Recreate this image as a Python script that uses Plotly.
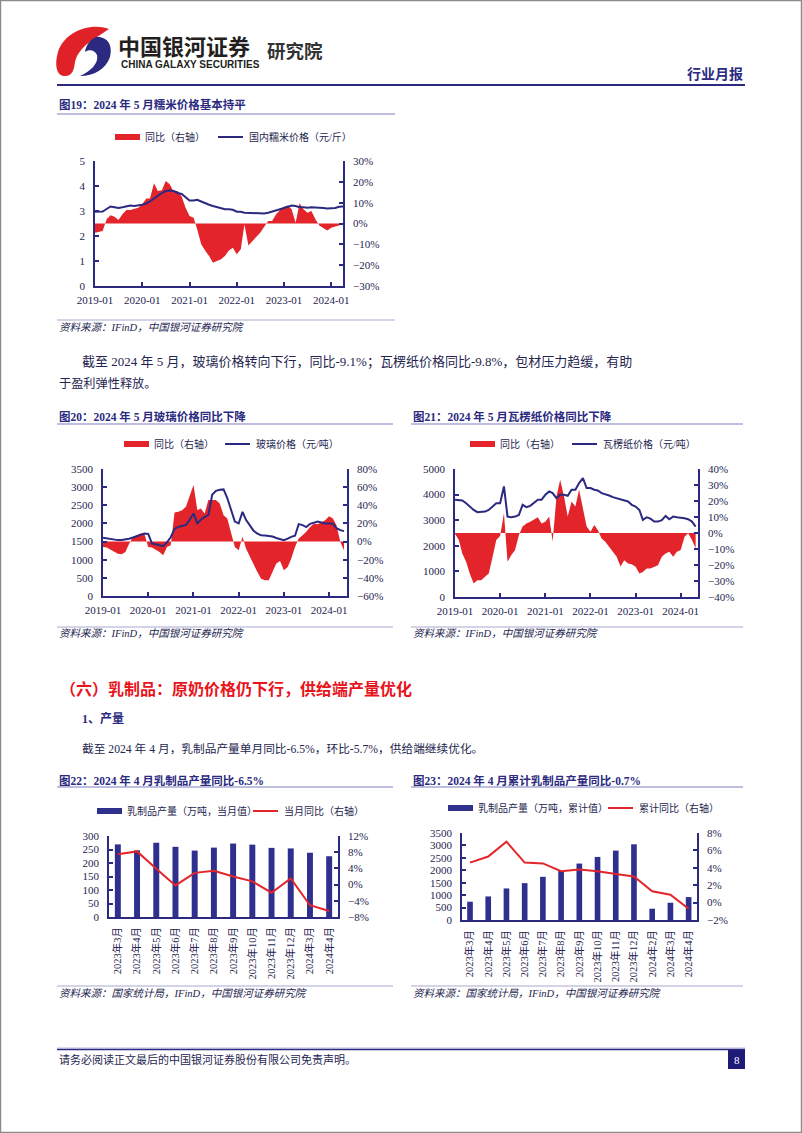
import plotly.graph_objects as go
import pandas as pd

W, H = 802, 1133
def X(px): return px / W
def Y(py): return 1 - py / H

FONT = "Liberation Serif, Noto Sans CJK SC, serif"
NAVY = "#2b2a80"
BARC = "#2f2f8e"
RED = "#e3252b"
TXT = "#25254f"
LAV = "#a9a9d3"

# ---------------- data ----------------
year_ticks = ["2019-01-01", "2020-01-01", "2021-01-01", "2022-01-01", "2023-01-01", "2024-01-01"]
year_labels = ["2019-01", "2020-01", "2021-01", "2022-01", "2023-01", "2024-01"]

# Fig 19: glutinous rice
rice_price = [2.97, 2.96, 2.98, 3.08, 3.18, 3.15, 3.12, 3.15, 3.20, 3.22, 3.20, 3.22,
              3.25, 3.30, 3.38, 3.50, 3.62, 3.72, 3.80, 3.82, 3.80, 3.72, 3.68, 3.55,
              3.42, 3.42, 3.45, 3.38, 3.30, 3.25, 3.20, 3.15, 3.10, 3.07, 3.07, 3.05,
              2.97, 2.97, 2.93, 2.92, 2.90, 2.89, 2.88, 2.90, 2.93, 2.97, 3.00, 3.07,
              3.12, 3.18, 3.22, 3.20, 3.15, 3.15, 3.13, 3.15, 3.15, 3.15, 3.12, 3.10,
              3.10, 3.12, 3.17, 3.18]
rice_yoy = [-4.4, -4.0, -3.6, 2.0, 4.0, 3.3, 1.7, 4.4, 6.5, 6.5, 7.0, 7.6,
            9.2, 12.0, 12.0, 19.3, 15.6, 16.0, 20.4, 18.8, 15.0, 15.6, 13.0, 7.6,
            3.6, 2.8, -2.8, -10.0, -13.0, -15.6, -18.8, -18.0, -17.2, -15.6, -13.0, -11.6,
            -14.8, -12.4, -0.5, -10.5, -8.5, -6.5, -4.4, -1.5, 1.2, 1.2, 4.4, 6.5,
            8.0, 8.7, 6.8, 0.4, 9.7, 6.8, 5.2, 6.0, 2.0, -0.9, -2.0, -3.3,
            -2.0, -1.5, -0.9, -0.4]

# Fig 20: glass
glass_price = [1603, 1590, 1566, 1550, 1540, 1545, 1557, 1580, 1612, 1650, 1704, 1722,
               1710, 1446, 1428, 1400, 1372, 1480, 1620, 1850, 1906, 1930, 1960, 2100,
               2275, 1999, 2100, 2180, 2229, 2790, 2900, 2930, 2938, 2700, 2350, 2050,
               1999, 2321, 2100, 1960, 1800, 1720, 1676, 1670, 1660, 1640, 1600, 1560,
               1538, 1580, 1630, 1660, 1980, 1953, 1900, 1990, 2030, 2050, 2026, 2000,
               1999, 1990, 1870, 1815, 1787]
glass_yoy = [-5.9, -6.6, -8.8, -11.4, -13.3, -14.0, -11.4, -2.2, 5.2, 7.0, 8.8, 8.8,
             -5.9, -6.6, -8.8, -11.4, -15.0, -5.9, -4.0, 32.0, 33.0, 34.6, 38.3, 49.4,
             62.3, 34.6, 36.5, 30.9, 45.7, 45.7, 45.7, 42.0, 29.0, 25.4, 10.7, -5.9,
             -9.6, 5.2, -7.7, -17.0, -26.0, -33.5, -40.9, -42.7, -42.7, -33.5, -24.3, -21.4,
             -31.6, -28.0, -18.8, -5.9, 3.3, 7.0, 10.7, 16.2, 19.9, 19.1, 21.7, 23.6,
             28.0, 25.4, 18.0, -0.4, -9.6]

# Fig 21: corrugated paper
paper_price = [3796, 3796, 3770, 3665, 3534, 3403, 3312, 3312, 3338, 3403, 3534, 3665,
               3665, 4320, 3142, 3115, 3142, 3207, 3600, 3508, 3561, 3665, 3796, 3796,
               3992, 4123, 4058, 3861, 3992, 3992, 3953, 4189, 4189, 4450, 4647, 4254,
               4254, 4189, 4163, 4058, 4018, 3966, 3900, 3861, 3800, 3760, 3730, 3600,
               3534, 3400, 3011, 3115, 3060, 2945, 2945, 3000, 3168, 3037, 3142, 3115,
               3100, 3076, 3037, 2945, 2749]
paper_yoy = [-0.5, -4.4, -12.8, -18.0, -25.5, -31.6, -29.5, -29.5, -27.4, -25.3, -15.0, -4.4,
             -1.9, 12.4, -18.0, -13.8, -10.7, -1.3, 4.0, 6.0, 7.1, 8.2, 9.8, 6.0,
             7.1, 10.3, -5.4, 22.8, 33.3, 22.8, 10.3, 19.7, 16.5, 27.0, 14.4, 4.0,
             0.8, 5.0, 1.9, -3.4, -5.4, -8.6, -11.7, -14.9, -21.0, -17.0, -19.0, -19.5,
             -21.1, -25.3, -24.3, -22.2, -22.2, -21.1, -20.1, -14.9, -12.8, -11.7, -14.9, -11.7,
             -10.7, -2.3, -0.2, -4.4, -9.6]

# Fig 22: dairy output, monthly
dairy_m_cats = ["2023年3月", "2023年4月", "2023年5月", "2023年6月", "2023年7月", "2023年8月",
                "2023年9月", "2023年10月", "2023年11月", "2023年12月", "2024年3月", "2024年4月"]
dairy_m_vals = [269, 247, 275, 260, 246, 257, 272, 268, 256, 254, 238, 225]
dairy_m_yoy = [7.5, 8.2, 3.9, -0.2, 2.9, 3.4, 2.0, 0.8, -2.0, 1.5, -5.1, -6.5]

# Fig 23: dairy output, cumulative
dairy_c_cats = ["2023年3月", "2023年4月", "2023年5月", "2023年6月", "2023年7月", "2023年8月",
                "2023年9月", "2023年10月", "2023年11月", "2023年12月", "2024年2月", "2024年3月", "2024年4月"]
dairy_c_vals = [735, 948, 1269, 1483, 1737, 1977, 2271, 2538, 2792, 3046, 454, 695, 922]
dairy_c_yoy = [4.6, 5.3, 7.0, 4.6, 4.5, 3.6, 3.8, 3.6, 3.3, 3.0, 1.3, 0.9, -0.7]

dates19 = pd.date_range("2019-01-01", periods=len(rice_price), freq="MS")
dates20 = pd.date_range("2019-01-01", periods=len(glass_price), freq="MS")
dates21 = pd.date_range("2019-01-01", periods=len(paper_price), freq="MS")

# ---------------- figure ----------------
fig = go.Figure()

def area(x, y, xa, ya):
    fig.add_trace(go.Scatter(x=x, y=y, xaxis=xa, yaxis=ya, mode="lines", fill="tozeroy",
                             line=dict(width=0, color=RED), fillcolor=RED, showlegend=False,
                             hoverinfo="skip"))

def line(x, y, xa, ya, color, width=2):
    fig.add_trace(go.Scatter(x=x, y=y, xaxis=xa, yaxis=ya, mode="lines",
                             line=dict(width=width, color=color), showlegend=False))

area(dates19, rice_yoy, "x", "y")
line(dates19, rice_price, "x", "y2", NAVY)
area(dates20, glass_yoy, "x2", "y3")
line(dates20, glass_price, "x2", "y4", NAVY)
area(dates21, paper_yoy, "x3", "y5")
line(dates21, paper_price, "x3", "y6", NAVY)

fig.add_trace(go.Bar(x=dairy_m_cats, y=dairy_m_vals, xaxis="x4", yaxis="y7",
                     marker=dict(color=BARC, line=dict(width=0)), width=0.31, showlegend=False))
line(dairy_m_cats, dairy_m_yoy, "x4", "y8", RED)
fig.add_trace(go.Bar(x=dairy_c_cats, y=dairy_c_vals, xaxis="x5", yaxis="y9",
                     marker=dict(color=BARC, line=dict(width=0)), width=0.31, showlegend=False))
line(dairy_c_cats, dairy_c_yoy, "x5", "y10", RED)

tickfont = dict(family=FONT, size=11, color=TXT)

def axis_common():
    return dict(showgrid=False, zeroline=False, showline=True, linecolor=NAVY, linewidth=1.5,
                ticks="inside", ticklen=4, tickcolor=NAVY, tickwidth=1.5, tickfont=tickfont,
                fixedrange=True, automargin=False)

def date_x(x0, x1, anchor, end):
    d = axis_common()
    d.update(domain=[X(x0), X(x1)], anchor=anchor, type="date", range=["2019-01-01", end],
             tickmode="array", tickvals=year_ticks, ticktext=year_labels, ticklabelstandoff=3)
    return d

def yax(y0, y1, anchor, side, rng, dtick, suffix="", overlay=None):
    d = axis_common()
    d.update(anchor=anchor, side=side, range=rng, tick0=rng[0], dtick=dtick, ticksuffix=suffix,
             ticklabelstandoff=6)
    if overlay:
        d["overlaying"] = overlay
    else:
        d["domain"] = [Y(y1), Y(y0)]
    return d

def cat_x(x0, x1, anchor, n):
    d = axis_common()
    d.update(domain=[X(x0), X(x1)], anchor=anchor, type="category", range=[-0.46, n - 1 + 0.46],
             tickangle=-90, ticks="", tickfont=dict(family=FONT, size=10.5, color=TXT),
             ticklabelstandoff=4)
    return d

layout = dict(
    width=W, height=H, margin=dict(l=0, r=0, t=0, b=0, pad=0, autoexpand=False), autosize=False,
    paper_bgcolor="white", plot_bgcolor="rgba(0,0,0,0)", showlegend=False,
    bargap=0.69,
    xaxis=date_x(95, 343, "y", "2024-04-01"),
    yaxis=yax(161, 286, "x", "right", [-30, 30], 10, "%"),
    yaxis2=yax(161, 286, "x", "left", [0, 5], 1, overlay="y"),
    xaxis2=date_x(103, 347, "y3", "2024-05-25"),
    yaxis3=yax(469, 596, "x2", "right", [-60, 80], 20, "%"),
    yaxis4=yax(469, 596, "x2", "left", [0, 3500], 500, overlay="y3"),
    xaxis3=date_x(455, 698, "y5", "2024-05-20"),
    yaxis5=yax(469, 597, "x3", "right", [-40, 40], 10, "%"),
    yaxis6=yax(469, 597, "x3", "left", [0, 5000], 1000, overlay="y5"),
    xaxis4=cat_x(109, 338, "y7", len(dairy_m_cats)),
    yaxis7=yax(836, 917, "x4", "left", [0, 300], 50),
    yaxis8=yax(836, 917, "x4", "right", [-8, 12], 4, "%", overlay="y7"),
    xaxis5=cat_x(462, 697, "y9", len(dairy_c_cats)),
    yaxis9=yax(833, 920, "x5", "left", [0, 3500], 500),
    yaxis10=yax(833, 920, "x5", "right", [-2, 8], 2, "%", overlay="y9"),
)
layout["xaxis5"]["range"] = [-0.44, len(dairy_c_cats) - 1 + 0.46]
fig.update_layout(**layout)

# ---------------- page decorations ----------------
shapes = []
def hline(x0, x1, y, color, width):
    shapes.append(dict(type="line", xref="paper", yref="paper", x0=X(x0), x1=X(x1), y0=Y(y), y1=Y(y),
                       line=dict(color=color, width=width)))
def rect(x0, y0, x1, y1, color, lw=0, lc=None):
    shapes.append(dict(type="rect", xref="paper", yref="paper", x0=X(x0), x1=X(x1), y0=Y(y1), y1=Y(y0),
                       fillcolor=color, line=dict(width=lw, color=lc or color)))
def path(pts_cmds, color):
    s = ""
    for cmd, pts in pts_cmds:
        s += cmd + " " + " ".join(f"{X(a):.5f},{Y(b):.5f}" for a, b in pts) + " "
    s += "Z"
    shapes.append(dict(type="path", xref="paper", yref="paper", path=s, fillcolor=color,
                       line=dict(width=0)))

# page border
shapes.append(dict(type="rect", xref="paper", yref="paper", x0=0.0006, x1=0.9994, y0=0.0005, y1=0.9995,
                   line=dict(color="#8c8c8c", width=1.5), fillcolor="rgba(0,0,0,0)"))
# logo: red crescent + navy swoosh
path([("M", [(109, 29)]), ("C", [(90, 22), (64, 32), (58, 52)]), ("C", [(54, 66), (57, 77), (66, 76)]),
      ("C", [(73, 75), (74, 69), (75, 62)]), ("C", [(77, 53), (84, 46), (91, 41)]),
      ("C", [(97, 37), (103, 33), (109, 29)])], "#e02128")
path([("M", [(96, 37)]), ("C", [(108, 36), (113, 46), (110, 57)]), ("C", [(106, 69), (94, 76), (80, 76)]),
      ("C", [(91, 71), (99, 63), (97, 55)]), ("C", [(95, 50), (89, 49), (85, 52)]),
      ("C", [(86, 45), (90, 40), (96, 37)])], "#2b2a80")
# header / footer lines
hline(57, 745, 85, NAVY, 2)
hline(57, 745, 1048, "#b9b9e6", 1)
hline(57, 745, 1049.5, NAVY, 1.5)
rect(728, 1050, 745, 1069, "#1d1a78")
# title underlines and source lines
for x0, x1, y in [(57, 395, 114), (57, 393, 424), (411, 743, 424), (57, 393, 787), (411, 743, 787)]:
    hline(x0, x1, y, LAV, 1.5)
for x0, x1, y in [(57, 395, 320), (57, 393, 627), (411, 743, 627), (57, 393, 986), (411, 743, 986)]:
    hline(x0, x1, y, LAV, 1)
# legends
def leg_box(x0, y, color, text):
    rect(x0, y - 3, x0 + 25, y + 3, color)
    return (text, x0 + 28, y)
def leg_line(x0, y, color, text):
    shapes.append(dict(type="line", xref="paper", yref="paper", x0=X(x0), x1=X(x0 + 25), y0=Y(y), y1=Y(y),
                       line=dict(color=color, width=2)))
    return (text, x0 + 29, y)
legend_texts = [
    leg_box(115, 137, RED, "同比（右轴）"), leg_line(218, 137, NAVY, "国内糯米价格（元/斤）"),
    leg_box(124, 444, RED, "同比（右轴）"), leg_line(225, 444, NAVY, "玻璃价格（元/吨）"),
    leg_box(470, 444, RED, "同比（右轴）"), leg_line(572, 444, NAVY, "瓦楞纸价格（元/吨）"),
    leg_box(97, 811, BARC, "乳制品产量（万吨，当月值）"), leg_line(253, 811, RED, "当月同比（右轴）"),
    leg_box(448, 808, BARC, "乳制品产量（万吨，累计值）"), leg_line(608, 808, RED, "累计同比（右轴）"),
]

ann = []
def txt(s, x, y, size=12, color=TXT, xanchor="left", family=FONT):
    ann.append(dict(text=s, x=X(x), y=Y(y), xref="paper", yref="paper", xanchor=xanchor, yanchor="middle",
                    showarrow=False, font=dict(family=family, size=size, color=color)))

for s, x, y in legend_texts:
    txt(s, x, y, size=10)

# header text
txt("<b>中国银河证券</b>", 116, 45, size=22, color="#231f20", family="Noto Sans CJK SC")
txt("<b>CHINA GALAXY SECURITIES</b>", 119, 64.5, size=10, color="#231f20",
    family="Liberation Sans Narrow, Liberation Sans, Arial")
txt("<b>研究院</b>", 265, 50, size=18.5, color="#333333", family="Noto Sans CJK SC")
txt("<b>行业月报</b>", 745, 73, size=14, color=NAVY, xanchor="right", family="Noto Sans CJK SC")

# chart titles
txt("<b>图19：2024 年 5 月糯米价格基本持平</b>", 57, 104, size=11.5, color=NAVY)
txt("<b>图20：2024 年 5 月玻璃价格同比下降</b>", 57, 416, size=11.5, color=NAVY)
txt("<b>图21：2024 年 5 月瓦楞纸价格同比下降</b>", 411, 416, size=11.5, color=NAVY)
txt("<b>图22：2024 年 4 月乳制品产量同比-6.5%</b>", 57, 780, size=11.5, color=NAVY)
txt("<b>图23：2024 年 4 月累计乳制品产量同比-0.7%</b>", 411, 780, size=11.5, color=NAVY)

# sources
src1 = "<i>资料来源：IFinD，中国银河证券研究院</i>"
src2 = "<i>资料来源：国家统计局，IFinD，中国银河证券研究院</i>"
txt(src1, 57, 327, size=10.5)
txt(src1, 57, 633, size=10.5)
txt(src1, 411, 633, size=10.5)
txt(src2, 57, 993, size=10.5)
txt(src2, 411, 993, size=10.5)

# body text
txt("截至 2024 年 5 月，玻璃价格转向下行，同比-9.1%；瓦楞纸价格同比-9.8%，包材压力趋缓，有助",
    80, 362, size=13)
txt("于盈利弹性释放。", 57, 384, size=12.2)
txt("<b>（六）乳制品：原奶价格仍下行，供给端产量优化</b>", 58, 688, size=16, color="#e8141c",
    family="Noto Sans CJK SC")
txt("<b>1、产量</b>", 80, 718, size=12, color=NAVY)
txt("截至 2024 年 4 月，乳制品产量单月同比-6.5%，环比-5.7%，供给端继续优化。", 80, 749, size=11.7)

# footer
txt("请务必阅读正文最后的中国银河证券股份有限公司免责声明。", 57, 1059, size=11)
txt("8", 736.5, 1059.5, size=11, color="white", xanchor="center")

fig.update_layout(shapes=shapes, annotations=ann)
fig.write_html("out.html",
               post_script="document.body.style.margin='0';document.body.style.padding='0';"
                           "document.body.style.overflow='hidden';")
